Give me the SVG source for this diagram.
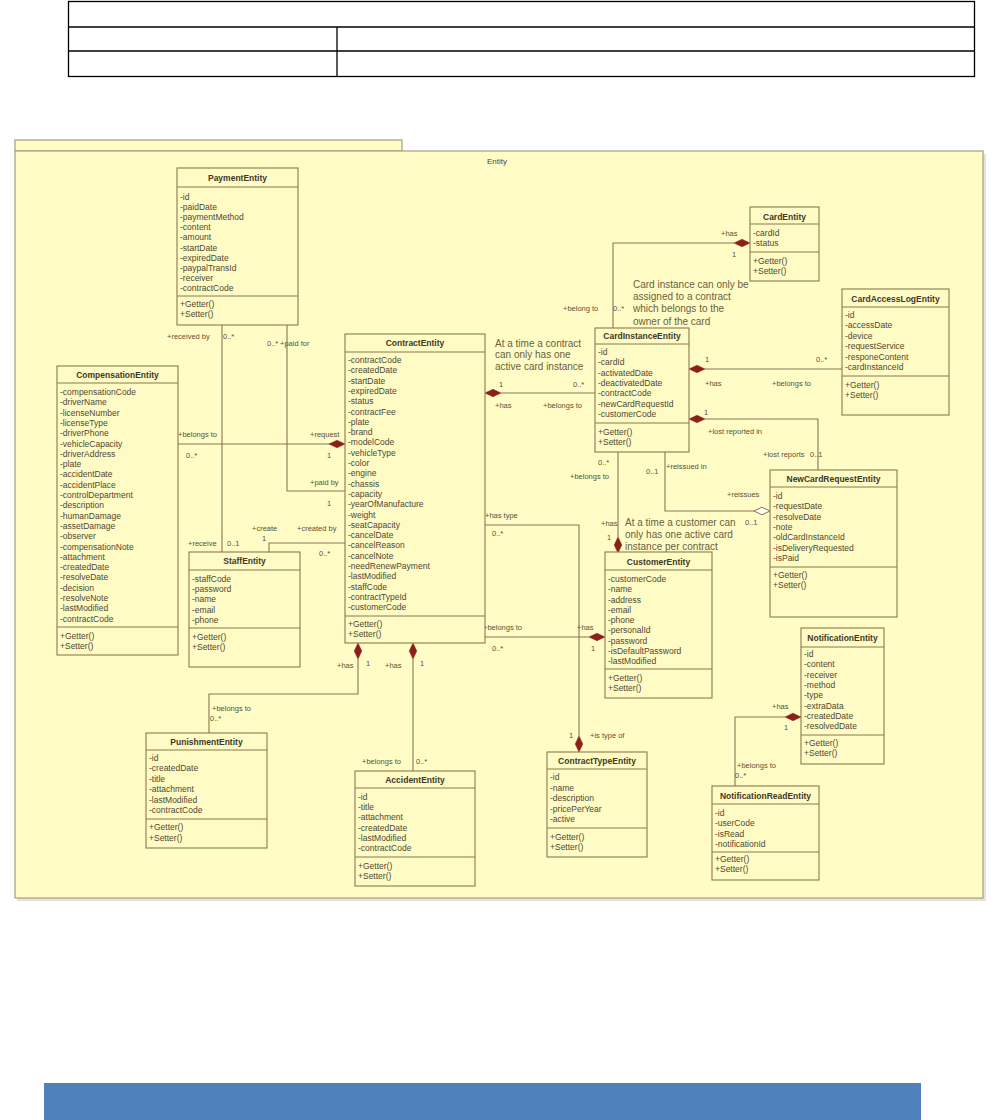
<svg xmlns="http://www.w3.org/2000/svg" width="998" height="1120" viewBox="0 0 998 1120">
<style>
.bg{fill:#ffffff}
.tbl{fill:none;stroke:#000;stroke-width:1.3}
.pkg{fill:#fffcc6;stroke:#a49e80;stroke-width:1.2}
.box{fill:#fffbc4;stroke:#8a7a4e;stroke-width:1.1}
.sep{stroke:#8a7a4e;stroke-width:1}
.t{font-family:"Liberation Sans",Arial,sans-serif;font-size:8.5px;fill:#4f4833}
.h{font-weight:bold;text-anchor:middle;fill:#3f3825}
.lbl{font-family:"Liberation Sans",Arial,sans-serif;font-size:7.5px;fill:#5a5238}
.note{font-family:"Liberation Sans",Arial,sans-serif;font-size:10px;fill:#6a5f3e}
.c{fill:none;stroke:#8a7456;stroke-width:1.1}
.dm{fill:#8b1f1a;stroke:#8b1f1a;stroke-width:0.5}
.dh{fill:#ffffff;stroke:#8a7456;stroke-width:1}
</style>
<defs>
<path id="dia" d="M-8,0 L0,-3.8 L8,0 L0,3.8 Z"/>
<path id="diav" d="M0,-8 L3.8,0 L0,8 L-3.8,0 Z"/>
</defs>
<rect class="bg" x="0" y="0" width="998" height="1120"/>

<g id="table">
<rect class="tbl" x="68.5" y="1.5" width="906" height="75"/>
<line class="tbl" x1="68.5" y1="27" x2="974.5" y2="27"/>
<line class="tbl" x1="68.5" y1="51" x2="974.5" y2="51"/>
<line class="tbl" x1="337" y1="27" x2="337" y2="76.5"/>
</g>

<g id="package">
<rect x="17" y="154" width="969" height="747" fill="#e6e4da"/>
<rect class="pkg" x="15" y="140" width="387" height="11"/>
<rect class="pkg" x="15" y="151" width="968" height="747"/>
<text class="t" x="497" y="164" text-anchor="middle" style="font-size:8px">Entity</text>
</g>

<g id="connectors">
<!-- Payment - Staff -->
<polyline class="c" points="222,325 222,552"/>
<text class="lbl" x="167" y="339">+received by</text>
<text class="lbl" x="223" y="339">0..*</text>
<text class="lbl" x="188" y="546">+receive</text>
<text class="lbl" x="227" y="546">0..1</text>
<!-- Payment - Contract -->
<polyline class="c" points="287,325 287,491 345,491"/>
<text class="lbl" x="267" y="346">0..*</text>
<text class="lbl" x="280" y="346">+paid for</text>
<text class="lbl" x="310" y="485">+paid by</text>
<text class="lbl" x="327" y="506">1</text>
<!-- Compensation - Contract -->
<polyline class="c" points="178,444 337,444"/>
<use href="#dia" class="dm" x="337" y="444"/>
<text class="lbl" x="178" y="437">+belongs to</text>
<text class="lbl" x="186" y="458">0..*</text>
<text class="lbl" x="310" y="437">+request</text>
<text class="lbl" x="327" y="458">1</text>
<!-- Staff - Contract -->
<polyline class="c" points="269,552 269,543 345,543"/>
<text class="lbl" x="252" y="531">+create</text>
<text class="lbl" x="262" y="541">1</text>
<text class="lbl" x="297" y="531">+created by</text>
<text class="lbl" x="319" y="556">0..*</text>
<!-- Contract - CardInstance -->
<polyline class="c" points="501,393 595,393"/>
<use href="#dia" class="dm" x="493" y="393"/>
<text class="lbl" x="499" y="387">1</text>
<text class="lbl" x="573" y="387">0..*</text>
<text class="lbl" x="495" y="408">+has</text>
<text class="lbl" x="543" y="408">+belongs to</text>
<!-- CardEntity - CardInstance -->
<polyline class="c" points="734,243 613,243 613,328"/>
<use href="#dia" class="dm" x="742" y="243"/>
<text class="lbl" x="721" y="236">+has</text>
<text class="lbl" x="732" y="257">1</text>
<text class="lbl" x="563" y="311">+belong to</text>
<text class="lbl" x="613" y="311">0..*</text>
<!-- CardInstance - CardAccessLog -->
<polyline class="c" points="705,369 842,369"/>
<use href="#dia" class="dm" x="697" y="369"/>
<text class="lbl" x="705" y="362">1</text>
<text class="lbl" x="816" y="362">0..*</text>
<text class="lbl" x="705" y="386">+has</text>
<text class="lbl" x="772" y="386">+belongs to</text>
<!-- CardInstance - NewCardRequest lost -->
<polyline class="c" points="705,419 818,419 818,470"/>
<use href="#dia" class="dm" x="697" y="419"/>
<text class="lbl" x="704" y="415">1</text>
<text class="lbl" x="708" y="434">+lost reported in</text>
<text class="lbl" x="763" y="457">+lost reports</text>
<text class="lbl" x="810" y="457">0..1</text>
<!-- CardInstance - NewCardRequest reissued -->
<polyline class="c" points="665,452 665,511 754,511"/>
<use href="#dia" class="dh" x="762" y="511"/>
<text class="lbl" x="646" y="474">0..1</text>
<text class="lbl" x="666" y="469">+reissued in</text>
<text class="lbl" x="727" y="497">+reissues</text>
<text class="lbl" x="745" y="525">0..1</text>
<!-- CardInstance - Customer -->
<polyline class="c" points="618,452 618,537"/>
<use href="#diav" class="dm" x="618" y="545"/>
<text class="lbl" x="598" y="465">0..*</text>
<text class="lbl" x="570" y="479">+belongs to</text>
<text class="lbl" x="601" y="526">+has</text>
<text class="lbl" x="607" y="540">1</text>
<!-- Contract - Customer -->
<polyline class="c" points="485,637 589,637"/>
<use href="#dia" class="dm" x="597" y="637"/>
<text class="lbl" x="483" y="630">+belongs to</text>
<text class="lbl" x="492" y="651">0..*</text>
<text class="lbl" x="577" y="630">+has</text>
<text class="lbl" x="591" y="651">1</text>
<!-- Contract - ContractType -->
<polyline class="c" points="485,525 579,525 579,736"/>
<use href="#diav" class="dm" x="579" y="744"/>
<text class="lbl" x="485" y="518">+has type</text>
<text class="lbl" x="492" y="536">0..*</text>
<text class="lbl" x="569" y="738">1</text>
<text class="lbl" x="590" y="738">+is type of</text>
<!-- Contract - Punishment -->
<polyline class="c" points="358,659 358,694 209,694 209,733"/>
<use href="#diav" class="dm" x="358" y="651"/>
<text class="lbl" x="337" y="668">+has</text>
<text class="lbl" x="366" y="666">1</text>
<text class="lbl" x="212" y="711">+belongs to</text>
<text class="lbl" x="210" y="721">0..*</text>
<!-- Contract - Accident -->
<polyline class="c" points="413,659 413,771"/>
<use href="#diav" class="dm" x="413" y="651"/>
<text class="lbl" x="385" y="668">+has</text>
<text class="lbl" x="420" y="666">1</text>
<text class="lbl" x="362" y="764">+belongs to</text>
<text class="lbl" x="416" y="764">0..*</text>
<!-- Notification - NotificationRead -->
<polyline class="c" points="785,717 735,717 735,786"/>
<use href="#dia" class="dm" x="793" y="717"/>
<text class="lbl" x="772" y="709">+has</text>
<text class="lbl" x="784" y="730">1</text>
<text class="lbl" x="737" y="768">+belongs to</text>
<text class="lbl" x="735" y="778">0..*</text>
</g>

<g id="notes">
<text class="note" x="495" y="347">At a time a contract</text>
<text class="note" x="495" y="358">can only has one</text>
<text class="note" x="495" y="370">active card instance</text>
<text class="note" x="633" y="288">Card instance can only be</text>
<text class="note" x="633" y="300">assigned to a contract</text>
<text class="note" x="633" y="312">which belongs to the</text>
<text class="note" x="633" y="325">owner of the card</text>
<text class="note" x="625" y="526">At a time a customer can</text>
<text class="note" x="625" y="538">only has one active card</text>
<text class="note" x="625" y="550">instance per contract</text>
</g>

<g id="PaymentEntity">
<rect class="box" x="177" y="168" width="121" height="157"/>
<text class="t h" x="237.5" y="181">PaymentEntity</text>
<line class="sep" x1="177" y1="187" x2="298" y2="187"/>
<text class="t"><tspan x="180" y="200">-id</tspan><tspan x="180" dy="10.1">-paidDate</tspan><tspan x="180" dy="10.1">-paymentMethod</tspan><tspan x="180" dy="10.1">-content</tspan><tspan x="180" dy="10.1">-amount</tspan><tspan x="180" dy="10.1">-startDate</tspan><tspan x="180" dy="10.1">-expiredDate</tspan><tspan x="180" dy="10.1">-paypalTransId</tspan><tspan x="180" dy="10.1">-receiver</tspan><tspan x="180" dy="10.1">-contractCode</tspan></text>
<line class="sep" x1="177" y1="296" x2="298" y2="296"/>
<text class="t"><tspan x="180" y="307">+Getter()</tspan><tspan x="180" y="317">+Setter()</tspan></text>
</g>

<g id="CompensationEntity">
<rect class="box" x="57" y="366" width="121" height="289"/>
<text class="t h" x="117.5" y="378">CompensationEntity</text>
<line class="sep" x1="57" y1="383" x2="178" y2="383"/>
<text class="t"><tspan x="60" y="395">-compensationCode</tspan><tspan x="60" dy="10.3">-driverName</tspan><tspan x="60" dy="10.3">-licenseNumber</tspan><tspan x="60" dy="10.3">-licenseType</tspan><tspan x="60" dy="10.3">-driverPhone</tspan><tspan x="60" dy="10.3">-vehicleCapacity</tspan><tspan x="60" dy="10.3">-driverAddress</tspan><tspan x="60" dy="10.3">-plate</tspan><tspan x="60" dy="10.3">-accidentDate</tspan><tspan x="60" dy="10.3">-accidentPlace</tspan><tspan x="60" dy="10.3">-controlDepartment</tspan><tspan x="60" dy="10.3">-description</tspan><tspan x="60" dy="10.3">-humanDamage</tspan><tspan x="60" dy="10.3">-assetDamage</tspan><tspan x="60" dy="10.3">-observer</tspan><tspan x="60" dy="10.3">-compensationNote</tspan><tspan x="60" dy="10.3">-attachment</tspan><tspan x="60" dy="10.3">-createdDate</tspan><tspan x="60" dy="10.3">-resolveDate</tspan><tspan x="60" dy="10.3">-decision</tspan><tspan x="60" dy="10.3">-resolveNote</tspan><tspan x="60" dy="10.3">-lastModified</tspan><tspan x="60" dy="10.3">-contractCode</tspan></text>
<line class="sep" x1="57" y1="627" x2="178" y2="627"/>
<text class="t"><tspan x="60" y="639">+Getter()</tspan><tspan x="60" y="649">+Setter()</tspan></text>
</g>

<g id="StaffEntity">
<rect class="box" x="189" y="552" width="111" height="115"/>
<text class="t h" x="244.5" y="564">StaffEntity</text>
<line class="sep" x1="189" y1="570" x2="300" y2="570"/>
<text class="t"><tspan x="192" y="582">-staffCode</tspan><tspan x="192" dy="10.2">-password</tspan><tspan x="192" dy="10.2">-name</tspan><tspan x="192" dy="10.2">-email</tspan><tspan x="192" dy="10.2">-phone</tspan></text>
<line class="sep" x1="189" y1="628" x2="300" y2="628"/>
<text class="t"><tspan x="192" y="640">+Getter()</tspan><tspan x="192" y="650">+Setter()</tspan></text>
</g>

<g id="ContractEntity">
<rect class="box" x="345" y="334" width="140" height="309"/>
<text class="t h" x="415" y="346">ContractEntity</text>
<line class="sep" x1="345" y1="352" x2="485" y2="352"/>
<text class="t"><tspan x="348" y="363">-contractCode</tspan><tspan x="348" dy="10.3">-createdDate</tspan><tspan x="348" dy="10.3">-startDate</tspan><tspan x="348" dy="10.3">-expiredDate</tspan><tspan x="348" dy="10.3">-status</tspan><tspan x="348" dy="10.3">-contractFee</tspan><tspan x="348" dy="10.3">-plate</tspan><tspan x="348" dy="10.3">-brand</tspan><tspan x="348" dy="10.3">-modelCode</tspan><tspan x="348" dy="10.3">-vehicleType</tspan><tspan x="348" dy="10.3">-color</tspan><tspan x="348" dy="10.3">-engine</tspan><tspan x="348" dy="10.3">-chassis</tspan><tspan x="348" dy="10.3">-capacity</tspan><tspan x="348" dy="10.3">-yearOfManufacture</tspan><tspan x="348" dy="10.3">-weight</tspan><tspan x="348" dy="10.3">-seatCapacity</tspan><tspan x="348" dy="10.3">-cancelDate</tspan><tspan x="348" dy="10.3">-cancelReason</tspan><tspan x="348" dy="10.3">-cancelNote</tspan><tspan x="348" dy="10.3">-needRenewPayment</tspan><tspan x="348" dy="10.3">-lastModified</tspan><tspan x="348" dy="10.3">-staffCode</tspan><tspan x="348" dy="10.3">-contractTypeId</tspan><tspan x="348" dy="10.3">-customerCode</tspan></text>
<line class="sep" x1="345" y1="616" x2="485" y2="616"/>
<text class="t"><tspan x="348" y="627">+Getter()</tspan><tspan x="348" y="637">+Setter()</tspan></text>
</g>

<g id="CardInstanceEntity">
<rect class="box" x="595" y="328" width="94" height="124"/>
<text class="t h" x="642" y="339">CardInstanceEntity</text>
<line class="sep" x1="595" y1="344" x2="689" y2="344"/>
<text class="t"><tspan x="598" y="355">-id</tspan><tspan x="598" dy="10.35">-cardId</tspan><tspan x="598" dy="10.35">-activatedDate</tspan><tspan x="598" dy="10.35">-deactivatedDate</tspan><tspan x="598" dy="10.35">-contractCode</tspan><tspan x="598" dy="10.35">-newCardRequestId</tspan><tspan x="598" dy="10.35">-customerCode</tspan></text>
<line class="sep" x1="595" y1="423" x2="689" y2="423"/>
<text class="t"><tspan x="598" y="435">+Getter()</tspan><tspan x="598" y="445">+Setter()</tspan></text>
</g>

<g id="CardEntity">
<rect class="box" x="750" y="207" width="69" height="74"/>
<text class="t h" x="784.5" y="220">CardEntity</text>
<line class="sep" x1="750" y1="224" x2="819" y2="224"/>
<text class="t"><tspan x="753" y="236">-cardId</tspan><tspan x="753" y="246">-status</tspan></text>
<line class="sep" x1="750" y1="252" x2="819" y2="252"/>
<text class="t"><tspan x="753" y="264">+Getter()</tspan><tspan x="753" y="274">+Setter()</tspan></text>
</g>

<g id="CardAccessLogEntity">
<rect class="box" x="842" y="289" width="107" height="126"/>
<text class="t h" x="895.5" y="302">CardAccessLogEntity</text>
<line class="sep" x1="842" y1="307" x2="949" y2="307"/>
<text class="t"><tspan x="845" y="318">-id</tspan><tspan x="845" dy="10.4">-accessDate</tspan><tspan x="845" dy="10.4">-device</tspan><tspan x="845" dy="10.4">-requestService</tspan><tspan x="845" dy="10.4">-responeContent</tspan><tspan x="845" dy="10.4">-cardInstanceId</tspan></text>
<line class="sep" x1="842" y1="376" x2="949" y2="376"/>
<text class="t"><tspan x="845" y="388">+Getter()</tspan><tspan x="845" y="398">+Setter()</tspan></text>
</g>

<g id="NewCardRequestEntity">
<rect class="box" x="770" y="470" width="127" height="147"/>
<text class="t h" x="833.5" y="482">NewCardRequestEntity</text>
<line class="sep" x1="770" y1="487" x2="897" y2="487"/>
<text class="t"><tspan x="773" y="499">-id</tspan><tspan x="773" dy="10.3">-requestDate</tspan><tspan x="773" dy="10.3">-resolveDate</tspan><tspan x="773" dy="10.3">-note</tspan><tspan x="773" dy="10.3">-oldCardInstanceId</tspan><tspan x="773" dy="10.3">-isDeliveryRequested</tspan><tspan x="773" dy="10.3">-isPaid</tspan></text>
<line class="sep" x1="770" y1="567" x2="897" y2="567"/>
<text class="t"><tspan x="773" y="578">+Getter()</tspan><tspan x="773" y="588">+Setter()</tspan></text>
</g>

<g id="CustomerEntity">
<rect class="box" x="605" y="552" width="107" height="146"/>
<text class="t h" x="658.5" y="565">CustomerEntity</text>
<line class="sep" x1="605" y1="570" x2="712" y2="570"/>
<text class="t"><tspan x="608" y="582">-customerCode</tspan><tspan x="608" dy="10.25">-name</tspan><tspan x="608" dy="10.25">-address</tspan><tspan x="608" dy="10.25">-email</tspan><tspan x="608" dy="10.25">-phone</tspan><tspan x="608" dy="10.25">-personalId</tspan><tspan x="608" dy="10.25">-password</tspan><tspan x="608" dy="10.25">-isDefaultPassword</tspan><tspan x="608" dy="10.25">-lastModified</tspan></text>
<line class="sep" x1="605" y1="669" x2="712" y2="669"/>
<text class="t"><tspan x="608" y="681">+Getter()</tspan><tspan x="608" y="691">+Setter()</tspan></text>
</g>

<g id="ContractTypeEntity">
<rect class="box" x="547" y="752" width="100" height="105"/>
<text class="t h" x="597" y="764">ContractTypeEntity</text>
<line class="sep" x1="547" y1="769" x2="647" y2="769"/>
<text class="t"><tspan x="550" y="780">-id</tspan><tspan x="550" dy="10.5">-name</tspan><tspan x="550" dy="10.5">-description</tspan><tspan x="550" dy="10.5">-pricePerYear</tspan><tspan x="550" dy="10.5">-active</tspan></text>
<line class="sep" x1="547" y1="828" x2="647" y2="828"/>
<text class="t"><tspan x="550" y="840">+Getter()</tspan><tspan x="550" y="850">+Setter()</tspan></text>
</g>

<g id="NotificationEntity">
<rect class="box" x="801" y="628" width="83" height="136"/>
<text class="t h" x="842.5" y="641">NotificationEntity</text>
<line class="sep" x1="801" y1="647" x2="884" y2="647"/>
<text class="t"><tspan x="804" y="657">-id</tspan><tspan x="804" dy="10.3">-content</tspan><tspan x="804" dy="10.3">-receiver</tspan><tspan x="804" dy="10.3">-method</tspan><tspan x="804" dy="10.3">-type</tspan><tspan x="804" dy="10.3">-extraData</tspan><tspan x="804" dy="10.3">-createdDate</tspan><tspan x="804" dy="10.3">-resolvedDate</tspan></text>
<line class="sep" x1="801" y1="735" x2="884" y2="735"/>
<text class="t"><tspan x="804" y="746">+Getter()</tspan><tspan x="804" y="756">+Setter()</tspan></text>
</g>

<g id="NotificationReadEntity">
<rect class="box" x="712" y="786" width="107" height="94"/>
<text class="t h" x="765.5" y="799">NotificationReadEntity</text>
<line class="sep" x1="712" y1="804" x2="819" y2="804"/>
<text class="t"><tspan x="715" y="816">-id</tspan><tspan x="715" dy="10.3">-userCode</tspan><tspan x="715" dy="10.3">-isRead</tspan><tspan x="715" dy="10.3">-notificationId</tspan></text>
<line class="sep" x1="712" y1="852" x2="819" y2="852"/>
<text class="t"><tspan x="715" y="862">+Getter()</tspan><tspan x="715" y="872">+Setter()</tspan></text>
</g>

<g id="PunishmentEntity">
<rect class="box" x="146" y="733" width="121" height="115"/>
<text class="t h" x="206.5" y="745">PunishmentEntity</text>
<line class="sep" x1="146" y1="750" x2="267" y2="750"/>
<text class="t"><tspan x="149" y="761">-id</tspan><tspan x="149" dy="10.4">-createdDate</tspan><tspan x="149" dy="10.4">-title</tspan><tspan x="149" dy="10.4">-attachment</tspan><tspan x="149" dy="10.4">-lastModified</tspan><tspan x="149" dy="10.4">-contractCode</tspan></text>
<line class="sep" x1="146" y1="819" x2="267" y2="819"/>
<text class="t"><tspan x="149" y="830">+Getter()</tspan><tspan x="149" y="841">+Setter()</tspan></text>
</g>

<g id="AccidentEntity">
<rect class="box" x="355" y="771" width="120" height="115"/>
<text class="t h" x="415" y="783">AccidentEntity</text>
<line class="sep" x1="355" y1="788" x2="475" y2="788"/>
<text class="t"><tspan x="358" y="800">-id</tspan><tspan x="358" dy="10.2">-title</tspan><tspan x="358" dy="10.2">-attachment</tspan><tspan x="358" dy="10.2">-createdDate</tspan><tspan x="358" dy="10.2">-lastModified</tspan><tspan x="358" dy="10.2">-contractCode</tspan></text>
<line class="sep" x1="355" y1="857" x2="475" y2="857"/>
<text class="t"><tspan x="358" y="869">+Getter()</tspan><tspan x="358" y="879">+Setter()</tspan></text>
</g>

<rect x="44" y="1083" width="877" height="37" fill="#4f81bd"/>
</svg>
